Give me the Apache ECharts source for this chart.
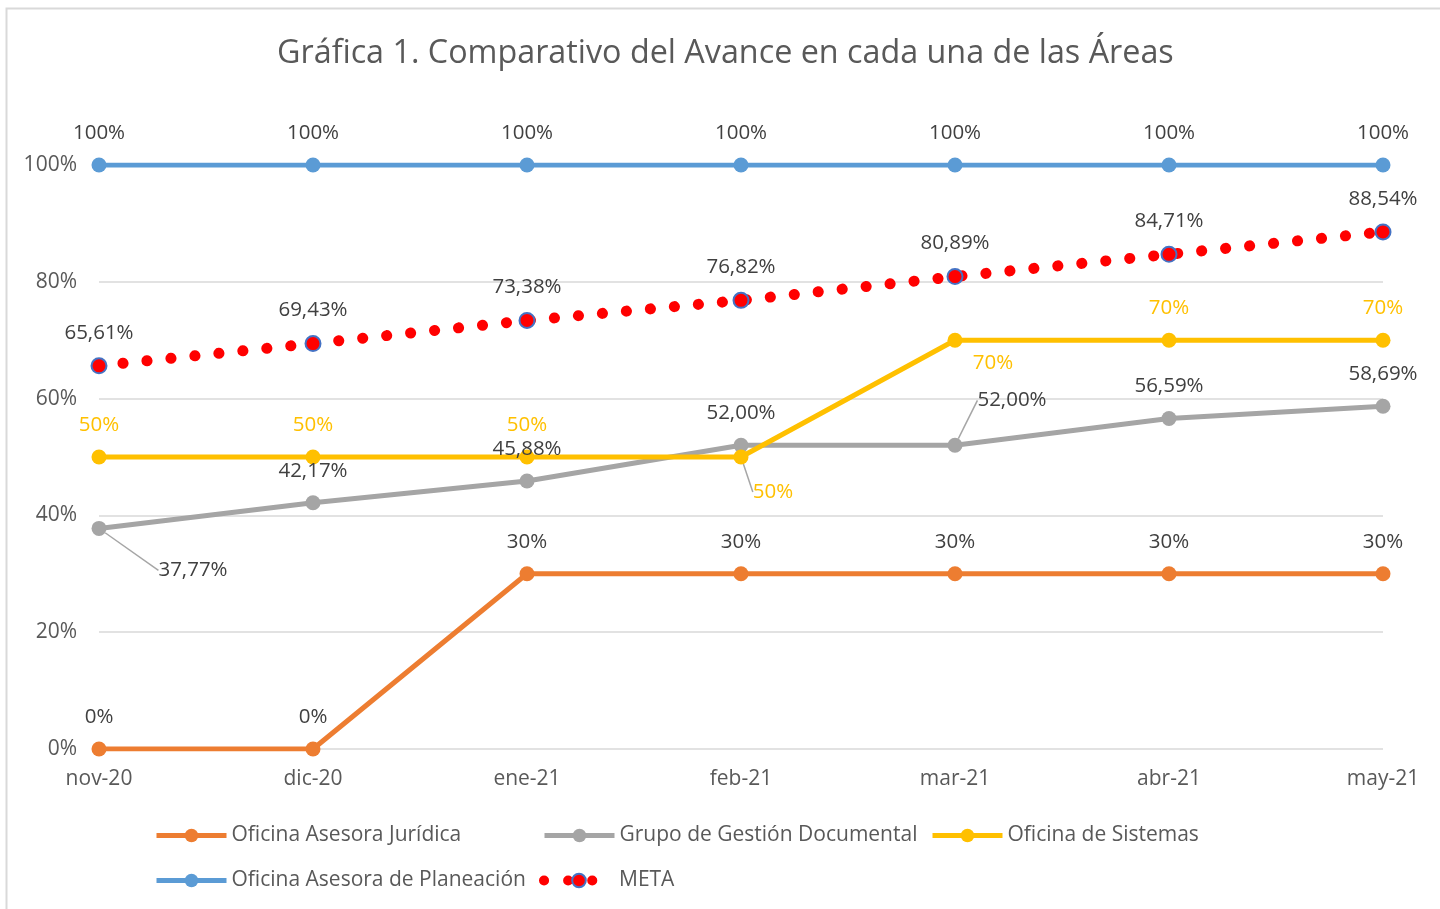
<!DOCTYPE html>
<html><head><meta charset="utf-8">
<script src="https://cdn.jsdelivr.net/npm/echarts@6/dist/echarts.min.js"></script>
<style>html,body{margin:0;padding:0;background:#fff}#c{width:1440px;height:909px}</style>
</head><body><div id="c"></div>
<script>
const categories = ['nov-20','dic-20','ene-21','feb-21','mar-21','abr-21','may-21'];
const juridica = [0, 0, 30, 30, 30, 30, 30];
const gestion = [37.77, 42.17, 45.88, 52.00, 52.00, 56.59, 58.69];
const sistemas = [50, 50, 50, 50, 70, 70, 70];
const planeacion = [100, 100, 100, 100, 100, 100, 100];
const meta = [65.61, 69.43, 73.38, 76.82, 80.89, 84.71, 88.54];
const yTicks = [0, 20, 40, 60, 80, 100];

const FONT = 'Open Sans';
const fmt0 = v => Math.round(v) + '%';
const fmt2 = v => v.toFixed(2).replace('.', ',') + '%';

// moves: index -> {dx, dy, line}
function lineSeries(name, data, color, fmt, labelColor, moves, extra) {
  const items = data.map((v, i) => ({
    value: v,
    labelLine: { show: !!(moves[i] && moves[i].line) }
  }));
  return Object.assign({
    name, type: 'line', data: items,
    symbol: 'circle', symbolSize: 15,
    lineStyle: { color, width: 5 },
    itemStyle: { color },
    label: { show: true, position: 'top', distance: 14, formatter: p => fmt(p.value),
      color: labelColor, fontSize: 20.5, fontFamily: FONT },
    labelLine: { show: false, length2: 0, lineStyle: { color: '#a6a6a6', width: 1.5 } },
    labelLayout: p => moves[p.dataIndex] ? { dx: moves[p.dataIndex].dx, dy: moves[p.dataIndex].dy } : {},
    emphasis: { disabled: true },
    z: 2
  }, extra || {});
}

const chart = echarts.init(document.getElementById('c'));
const legendBase = { top: 820, itemWidth: 70, itemHeight: 17,
  lineStyle: { width: 5 },
  textStyle: { fontSize: 21, color: '#595959', fontFamily: FONT }, itemGap: 10 };
chart.setOption({
  animation: false,
  title: { text: 'Gráfica 1. Comparativo del Avance en cada una de las Áreas', left: 272, top: 33,
    textStyle: { fontSize: 32.3, fontWeight: 'normal', color: '#595959', fontFamily: FONT } },
  grid: { left: 99, right: 57, top: 165, bottom: 160 },
  xAxis: { type: 'category', data: categories, boundaryGap: false,
    axisLine: { show: false }, axisTick: { show: false },
    axisLabel: { margin: 20, fontSize: 21, color: '#595959', fontFamily: FONT } },
  yAxis: { type: 'value', min: 0, max: 100, interval: 20,
    axisLabel: { margin: 22, fontSize: 21, color: '#595959', fontFamily: FONT,
      formatter: v => yTicks.includes(v) ? v + '%' : '' },
    splitLine: { lineStyle: { color: '#d9d9d9', width: 1.5 } },
    axisLine: { show: false }, axisTick: { show: false } },
  legend: [
    Object.assign({}, legendBase, { left: 149, data: ['Oficina Asesora Jurídica'] }),
    Object.assign({}, legendBase, { left: 537, data: ['Grupo de Gestión Documental'] }),
    Object.assign({}, legendBase, { left: 925, data: ['Oficina de Sistemas'] }),
    Object.assign({}, legendBase, { left: 149, top: 865, data: ['Oficina Asesora de Planeación'] }),
    Object.assign({}, legendBase, { left: 534, top: 865, lineStyle: { width: 10 }, data: ['META'] })
  ],
  graphic: [{ type: 'rect', shape: { x: 6.5, y: 8.5, width: 1450, height: 920 },
    style: { fill: 'none', stroke: '#d9d9d9', lineWidth: 2 }, silent: true }],
  series: [
    lineSeries('Oficina Asesora Jurídica', juridica, '#ED7D31', fmt0, '#404040', {}),
    lineSeries('Grupo de Gestión Documental', gestion, '#A5A5A5', fmt2, '#404040',
      { 0: { dx: 94, dy: 74, line: true }, 4: { dx: 57, dy: -13, line: true } }),
    lineSeries('Oficina de Sistemas', sistemas, '#FFC000', fmt0, '#FFC000',
      { 3: { dx: 32, dy: 67, line: true }, 4: { dx: 38, dy: 55, line: false } }),
    lineSeries('Oficina Asesora de Planeación', planeacion, '#5B9BD5', fmt0, '#404040', {}),
    lineSeries('META', meta, '#FF0000', fmt2, '#404040', {}, {
      lineStyle: { color: '#FF0000', width: 11, type: [0.1, 24], cap: 'round' },
      itemStyle: { color: '#FF0000', borderColor: '#4472C4', borderWidth: 2 },
      z: 3
    })
  ]
});
</script></body></html>
